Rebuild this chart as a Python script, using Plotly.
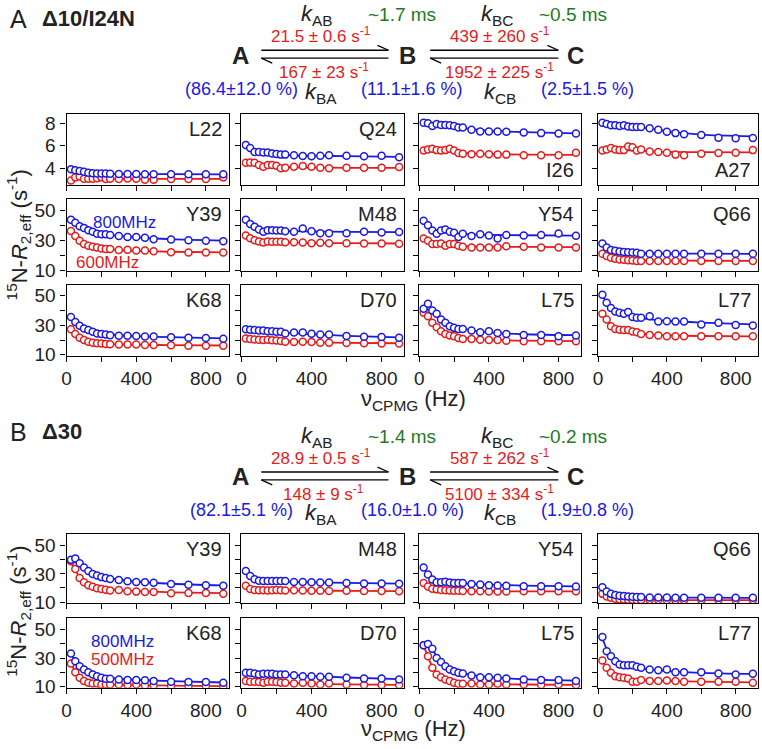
import plotly.graph_objects as go

# ---------------- data ----------------
NU = [25, 50, 75, 100, 125, 150, 175, 200, 225, 250, 300, 350, 400, 450, 500, 600, 700, 800, 900]
FIT_NU = [25, 50, 75, 100, 150, 200, 300, 400, 600, 900]

X_TICKS = [0, 200, 400, 600, 800]
X_TICK_TEXT = ["0", "", "400", "", "800"]
Y_TICKS_TOP = [4, 6, 8]
Y_TICKS = [10, 20, 30, 40, 50]
Y_TICK_TEXT = ["10", "", "30", "", "50"]

# Panel A  (800 MHz blue, 600 MHz red)
L22_800 = [3.92, 3.83, 3.77, 3.70, 3.62, 3.57, 3.55, 3.55, 3.55, 3.52, 3.50, 3.50, 3.50, 3.48, 3.48, 3.48, 3.48, 3.48, 3.48]
L22_600 = [2.93, 3.20, 3.28, 3.07, 3.07, 3.07, 3.13, 3.20, 3.05, 3.07, 3.05, 3.10, 3.07, 2.98, 2.98, 3.05, 3.05, 3.05, 3.20]
Q24_800 = [6.08, 5.80, 5.45, 5.45, 5.40, 5.40, 5.33, 5.28, 5.22, 5.22, 5.16, 5.10, 5.07, 5.13, 5.16, 5.13, 5.07, 5.13, 4.99]
Q24_600 = [4.49, 4.52, 4.49, 4.29, 4.14, 4.29, 4.29, 4.23, 4.00, 4.06, 4.14, 4.20, 4.14, 4.06, 4.00, 4.06, 4.06, 4.06, 4.12]
I26_800 = [8.06, 8.00, 7.77, 7.94, 7.86, 7.86, 7.83, 7.77, 7.62, 7.62, 7.42, 7.28, 7.28, 7.28, 7.25, 7.19, 7.13, 7.10, 7.10]
I26_600 = [5.59, 5.68, 5.74, 5.62, 5.59, 5.62, 5.74, 5.59, 5.36, 5.30, 5.25, 5.30, 5.25, 5.22, 5.22, 5.16, 5.16, 5.16, 5.39]
A27_800 = [8.06, 7.94, 7.83, 7.83, 7.77, 7.83, 7.71, 7.68, 7.68, 7.68, 7.57, 7.42, 7.25, 7.13, 7.04, 6.96, 6.72, 6.67, 6.70]
A27_600 = [5.59, 5.68, 5.80, 5.68, 5.62, 5.62, 5.94, 5.88, 5.59, 5.68, 5.50, 5.45, 5.39, 5.22, 5.16, 5.30, 5.36, 5.39, 5.62]
Y39A_800 = [43.5, 41.5, 39.2, 38.1, 36.6, 35.5, 34.2, 33.8, 33.8, 33.4, 32.7, 32.1, 32.1, 31.6, 30.5, 30.3, 29.9, 29.5, 29.2]
Y39A_600 = [36.0, 32.7, 29.5, 27.3, 26.2, 25.6, 25.1, 24.3, 24.1, 24.1, 23.4, 23.6, 23.0, 23.0, 22.5, 21.9, 21.7, 21.7, 21.7]
M48A_800 = [43.5, 40.7, 38.8, 37.0, 35.5, 36.6, 36.6, 36.4, 36.4, 35.9, 35.5, 37.7, 35.9, 34.6, 34.6, 34.6, 35.5, 35.1, 35.3]
M48A_600 = [33.1, 31.2, 29.9, 29.0, 28.4, 29.0, 28.8, 28.8, 28.8, 28.6, 28.6, 28.4, 27.9, 28.2, 27.9, 27.9, 27.7, 27.7, 27.5]
Y54A_800 = [42.9, 39.8, 36.4, 34.2, 36.4, 37.0, 35.5, 34.9, 32.1, 34.2, 32.7, 33.8, 33.1, 31.0, 33.4, 33.1, 33.4, 34.4, 32.9]
Y54A_600 = [31.0, 29.5, 27.3, 27.3, 27.7, 26.2, 27.3, 27.3, 26.2, 25.6, 25.1, 25.1, 25.1, 25.1, 25.8, 25.6, 25.1, 25.1, 25.1]
Q66A_800 = [27.7, 25.1, 23.4, 22.8, 22.3, 22.1, 21.9, 21.7, 21.5, 20.8, 20.8, 20.8, 20.8, 20.8, 20.8, 20.8, 20.8, 20.8, 20.8]
Q66A_600 = [20.8, 19.3, 18.2, 17.6, 17.1, 16.9, 16.5, 16.3, 16.1, 16.1, 16.1, 16.1, 16.1, 16.1, 16.1, 16.1, 16.1, 16.1, 16.1]
K68A_800 = [35.6, 32.2, 29.6, 27.8, 26.7, 25.6, 24.4, 24.0, 23.8, 23.3, 22.9, 22.9, 22.7, 22.4, 22.4, 21.8, 21.6, 21.3, 20.9]
K68A_600 = [27.3, 24.0, 21.6, 20.0, 18.9, 18.2, 17.8, 17.6, 17.3, 17.1, 16.9, 16.9, 16.9, 16.7, 16.7, 16.4, 16.2, 16.2, 16.2]
D70A_800 = [27.3, 26.9, 26.7, 26.4, 26.4, 26.0, 26.0, 25.6, 25.6, 24.4, 25.1, 25.1, 24.2, 23.8, 23.8, 22.7, 22.2, 22.0, 21.6]
D70A_600 = [21.1, 20.7, 20.4, 20.2, 20.0, 20.2, 19.8, 19.6, 19.3, 18.9, 18.7, 18.9, 18.7, 18.2, 18.2, 18.0, 17.8, 17.6, 17.6]
L75A_800 = [41.1, 44.5, 40.0, 37.7, 33.9, 31.6, 29.3, 28.2, 27.5, 27.5, 26.4, 25.2, 25.9, 24.8, 24.1, 23.4, 23.4, 22.5, 23.0]
L75A_600 = [38.4, 36.1, 31.6, 28.6, 25.9, 24.1, 23.0, 22.5, 21.4, 20.7, 20.7, 20.2, 20.0, 20.0, 19.5, 19.1, 19.1, 19.1, 19.1]
L77A_800 = [50.5, 45.2, 41.6, 39.3, 38.4, 37.7, 38.9, 35.5, 35.0, 35.0, 36.1, 32.5, 32.7, 32.5, 32.5, 30.5, 31.6, 30.2, 29.8]
L77A_600 = [37.7, 33.9, 29.3, 27.5, 27.0, 26.8, 26.8, 25.7, 25.2, 24.1, 23.4, 23.0, 22.5, 22.5, 22.5, 22.5, 22.5, 22.5, 22.5]

# Panel A fits (on FIT_NU)
L22_800_FIT = [3.92, 3.82, 3.74, 3.67, 3.58, 3.54, 3.50, 3.49, 3.48, 3.47]
L22_600_FIT = [3.10, 3.09, 3.08, 3.08, 3.07, 3.07, 3.06, 3.06, 3.06, 3.06]
Q24_800_FIT = [5.95, 5.70, 5.52, 5.42, 5.30, 5.24, 5.16, 5.12, 5.08, 5.02]
Q24_600_FIT = [4.45, 4.35, 4.27, 4.21, 4.15, 4.12, 4.09, 4.07, 4.05, 4.05]
I26_800_FIT = [8.02, 7.96, 7.90, 7.85, 7.76, 7.67, 7.50, 7.35, 7.22, 7.10]
I26_600_FIT = [5.68, 5.66, 5.63, 5.60, 5.52, 5.45, 5.33, 5.27, 5.22, 5.20]
A27_800_FIT = [8.05, 8.00, 7.95, 7.90, 7.82, 7.73, 7.55, 7.30, 7.00, 6.84]
A27_600_FIT = [5.72, 5.70, 5.68, 5.66, 5.62, 5.58, 5.52, 5.47, 5.44, 5.42]
Y39A_800_FIT = [43.5, 41.0, 39.0, 37.5, 35.5, 34.2, 32.8, 31.8, 30.6, 29.6]
Y39A_600_FIT = [36.0, 32.0, 29.3, 27.5, 25.5, 24.4, 23.3, 22.8, 22.2, 21.8]
M48A_800_FIT = [43.0, 40.5, 38.7, 37.6, 36.6, 36.2, 35.9, 35.7, 35.5, 35.3]
M48A_600_FIT = [33.0, 31.2, 30.0, 29.3, 28.7, 28.5, 28.3, 28.1, 27.9, 27.7]
Y54A_800_FIT = [41.5, 39.0, 37.3, 36.2, 35.0, 34.4, 33.8, 33.5, 33.2, 33.0]
Y54A_600_FIT = [30.5, 28.8, 27.7, 27.0, 26.3, 26.0, 25.7, 25.6, 25.4, 25.3]
Q66A_800_FIT = [27.5, 25.2, 23.8, 23.0, 22.2, 21.7, 21.2, 21.0, 20.9, 20.8]
Q66A_600_FIT = [20.8, 19.2, 18.2, 17.6, 17.0, 16.7, 16.4, 16.3, 16.2, 16.1]
K68A_800_FIT = [35.5, 32.0, 29.5, 27.8, 25.6, 24.4, 23.2, 22.6, 21.9, 21.1]
K68A_600_FIT = [27.3, 24.0, 21.6, 20.0, 18.5, 17.7, 17.0, 16.8, 16.5, 16.3]
D70A_800_FIT = [27.2, 26.9, 26.6, 26.3, 25.9, 25.4, 24.6, 23.9, 22.8, 21.8]
D70A_600_FIT = [21.0, 20.7, 20.4, 20.2, 19.8, 19.5, 19.0, 18.6, 18.1, 17.8]
L75A_800_FIT = [41.5, 40.5, 38.5, 36.2, 32.5, 29.8, 26.5, 25.1, 23.9, 23.3]
L75A_600_FIT = [38.5, 35.5, 31.8, 28.8, 25.0, 23.0, 21.0, 20.2, 19.6, 19.2]
L77A_800_FIT = [49.5, 45.5, 42.2, 40.0, 37.4, 35.8, 34.0, 33.0, 31.8, 30.5]
L77A_600_FIT = [37.5, 33.5, 30.2, 28.3, 26.2, 25.0, 23.8, 23.2, 22.7, 22.5]

# Panel B  (800 MHz blue, 500 MHz red)
Y39B_800 = [40.0, 41.0, 37.5, 34.5, 32.0, 30.0, 28.8, 27.7, 27.0, 26.3, 25.6, 24.8, 24.3, 24.0, 23.7, 22.9, 22.3, 22.0, 21.6]
Y39B_500 = [39.0, 33.5, 27.0, 24.0, 22.0, 20.8, 19.8, 19.2, 18.7, 18.2, 18.5, 17.6, 17.4, 17.2, 17.1, 16.2, 16.5, 16.4, 15.9]
M48B_800 = [32.0, 28.5, 26.2, 25.2, 25.0, 24.9, 24.9, 24.9, 24.9, 24.9, 24.3, 24.3, 24.0, 23.8, 23.8, 23.6, 23.2, 23.2, 23.0]
M48B_500 = [21.5, 19.3, 18.6, 18.4, 18.3, 18.2, 18.3, 18.5, 18.4, 18.2, 18.3, 18.2, 18.0, 18.0, 17.9, 18.0, 17.8, 17.8, 17.7]
Y54B_800 = [34.5, 29.5, 26.0, 24.0, 24.0, 24.5, 23.8, 23.5, 23.5, 23.6, 22.8, 22.4, 22.0, 21.8, 21.6, 21.3, 21.2, 21.2, 21.0]
Y54B_500 = [23.5, 21.0, 19.5, 19.0, 18.6, 18.4, 18.2, 18.1, 18.0, 17.9, 17.6, 17.6, 17.5, 17.5, 17.5, 17.6, 17.7, 17.7, 17.6]
Q66B_800 = [20.5, 17.5, 15.8, 15.0, 14.5, 14.2, 14.0, 13.8, 13.6, 13.5, 13.3, 13.2, 13.2, 13.1, 13.1, 13.0, 13.0, 13.0, 13.0]
Q66B_500 = [15.8, 14.0, 13.0, 12.4, 12.0, 11.8, 11.7, 11.6, 11.5, 11.5, 11.4, 11.4, 11.3, 11.3, 11.3, 11.3, 11.3, 11.3, 11.3]
K68B_800 = [33.3, 27.9, 24.4, 22.1, 20.2, 18.6, 17.4, 16.3, 15.6, 15.6, 15.1, 14.7, 14.7, 14.5, 14.0, 13.5, 13.3, 13.3, 12.8]
K68B_500 = [26.3, 20.2, 16.3, 14.0, 12.8, 12.3, 12.3, 11.6, 11.6, 11.6, 11.6, 11.2, 11.6, 10.9, 10.9, 10.5, 10.5, 10.5, 10.2]
D70B_800 = [19.8, 19.8, 19.3, 18.6, 19.1, 19.1, 19.1, 18.6, 18.6, 18.6, 18.1, 17.4, 17.4, 17.0, 17.0, 16.3, 15.8, 15.8, 15.1]
D70B_500 = [14.0, 13.5, 13.5, 13.3, 12.8, 13.5, 13.5, 13.3, 12.8, 12.8, 12.3, 12.8, 12.3, 11.6, 12.3, 11.6, 11.2, 11.2, 11.2]
L75B_800 = [39.1, 40.0, 36.7, 30.2, 27.4, 24.4, 22.1, 20.9, 19.8, 19.3, 17.9, 16.7, 16.7, 16.3, 15.8, 15.1, 14.7, 14.7, 14.0]
L75B_500 = [39.1, 31.4, 23.3, 18.6, 16.7, 15.1, 14.0, 12.8, 12.1, 12.1, 12.3, 11.6, 11.6, 12.1, 11.6, 11.6, 11.2, 11.6, 11.2]
L77B_800 = [44.9, 34.9, 31.4, 27.9, 25.6, 25.1, 25.1, 25.1, 24.0, 23.3, 22.1, 21.6, 22.1, 20.2, 20.2, 20.2, 19.3, 18.6, 19.1]
L77B_500 = [28.4, 23.3, 19.8, 17.4, 16.7, 16.3, 15.8, 13.5, 13.5, 14.7, 14.0, 14.0, 14.4, 14.0, 13.5, 13.5, 13.5, 13.5, 12.8]

Y39B_800_FIT = [40.5, 39.0, 36.5, 34.2, 30.8, 28.6, 26.0, 24.6, 23.0, 21.8]
Y39B_500_FIT = [38.5, 32.5, 27.8, 24.8, 21.6, 20.0, 18.5, 17.7, 16.9, 16.3]
M48B_800_FIT = [31.5, 28.6, 26.8, 25.8, 25.0, 24.7, 24.3, 24.0, 23.6, 23.1]
M48B_500_FIT = [21.5, 19.6, 18.9, 18.6, 18.4, 18.3, 18.2, 18.1, 18.0, 17.8]
Y54B_800_FIT = [34.0, 29.8, 27.0, 25.4, 24.1, 23.6, 22.9, 22.4, 21.7, 21.1]
Y54B_500_FIT = [23.5, 21.2, 19.8, 19.0, 18.4, 18.1, 17.8, 17.7, 17.6, 17.6]
Q66B_800_FIT = [20.2, 17.5, 16.0, 15.1, 14.2, 13.8, 13.4, 13.2, 13.1, 13.0]
Q66B_500_FIT = [15.8, 14.1, 13.0, 12.4, 11.9, 11.7, 11.5, 11.4, 11.3, 11.3]
K68B_800_FIT = [33.0, 28.2, 24.6, 22.2, 19.0, 17.2, 15.6, 14.9, 14.0, 13.0]
K68B_500_FIT = [26.5, 20.5, 16.6, 14.4, 12.8, 12.1, 11.5, 11.2, 10.8, 10.4]
D70B_800_FIT = [19.8, 19.6, 19.4, 19.2, 18.9, 18.7, 18.1, 17.5, 16.5, 15.3]
D70B_500_FIT = [13.9, 13.7, 13.5, 13.3, 13.1, 12.9, 12.5, 12.2, 11.7, 11.3]
L75B_800_FIT = [39.5, 39.0, 36.0, 31.5, 25.0, 21.5, 18.3, 16.8, 15.3, 14.2]
L75B_500_FIT = [38.8, 31.0, 24.0, 19.5, 15.2, 13.4, 12.2, 11.9, 11.6, 11.3]
L77B_800_FIT = [44.0, 36.5, 31.5, 28.4, 25.2, 23.7, 22.0, 21.0, 19.8, 19.0]
L77B_500_FIT = [28.4, 23.5, 20.2, 18.2, 16.3, 15.4, 14.5, 14.1, 13.6, 13.1]

# panel descriptors: (label, blue, red, blue fit, red fit, label at bottom?)
PANEL_A = [
    ("L22", L22_800, L22_600, L22_800_FIT, L22_600_FIT, False),
    ("Q24", Q24_800, Q24_600, Q24_800_FIT, Q24_600_FIT, False),
    ("I26", I26_800, I26_600, I26_800_FIT, I26_600_FIT, True),
    ("A27", A27_800, A27_600, A27_800_FIT, A27_600_FIT, True),
    ("Y39", Y39A_800, Y39A_600, Y39A_800_FIT, Y39A_600_FIT, False),
    ("M48", M48A_800, M48A_600, M48A_800_FIT, M48A_600_FIT, False),
    ("Y54", Y54A_800, Y54A_600, Y54A_800_FIT, Y54A_600_FIT, False),
    ("Q66", Q66A_800, Q66A_600, Q66A_800_FIT, Q66A_600_FIT, False),
    ("K68", K68A_800, K68A_600, K68A_800_FIT, K68A_600_FIT, False),
    ("D70", D70A_800, D70A_600, D70A_800_FIT, D70A_600_FIT, False),
    ("L75", L75A_800, L75A_600, L75A_800_FIT, L75A_600_FIT, False),
    ("L77", L77A_800, L77A_600, L77A_800_FIT, L77A_600_FIT, False),
]
PANEL_B = [
    ("Y39", Y39B_800, Y39B_500, Y39B_800_FIT, Y39B_500_FIT, False),
    ("M48", M48B_800, M48B_500, M48B_800_FIT, M48B_500_FIT, False),
    ("Y54", Y54B_800, Y54B_500, Y54B_800_FIT, Y54B_500_FIT, False),
    ("Q66", Q66B_800, Q66B_500, Q66B_800_FIT, Q66B_500_FIT, False),
    ("K68", K68B_800, K68B_500, K68B_800_FIT, K68B_500_FIT, False),
    ("D70", D70B_800, D70B_500, D70B_800_FIT, D70B_500_FIT, False),
    ("L75", L75B_800, L75B_500, L75B_800_FIT, L75B_500_FIT, False),
    ("L77", L77B_800, L77B_500, L77B_800_FIT, L77B_500_FIT, False),
]

# ---------------- layout geometry (screen pixels) ----------------
W, H = 762, 749
COLS = [(62, 225), (238, 402), (417, 580), (597, 758)]
ROWS_A = [(115, 187), (201, 274), (288, 360)]
ROWS_B = [(541, 611), (626, 697)]
X_RANGE = [0, 930]
Y_RANGE_TOP = [2.5, 8.8]
Y_RANGE_A = [9.4, 57.3]
Y_RANGE_B = [9.3, 58.3]

BLUE = "#1a1ae0"
RED = "#e41c1c"
INK = "#222222"
GREEN = "#1e7a1e"
FONT = "Liberation Sans, Arial, sans-serif"


def px(x):
    return x / W


def py(y):
    return 1 - y / H


fig = go.Figure()
layout = dict(
    width=W, height=H, autosize=False,
    margin=dict(l=0, r=0, t=0, b=0),
    paper_bgcolor="white", plot_bgcolor="white",
    showlegend=False,
    font=dict(family=FONT, color=INK, size=18),
)
annotations = []
shapes = []

panels = []
for i, p in enumerate(PANEL_A):
    r, c = divmod(i, 4)
    yr = Y_RANGE_TOP if r == 0 else Y_RANGE_A
    ticks = (Y_TICKS_TOP, [str(v) for v in Y_TICKS_TOP]) if r == 0 else (Y_TICKS, Y_TICK_TEXT)
    panels.append((p, COLS[c], ROWS_A[r], yr, ticks, c == 0, r == 2))
for i, p in enumerate(PANEL_B):
    r, c = divmod(i, 4)
    panels.append((p, COLS[c], ROWS_B[r], Y_RANGE_B, (Y_TICKS, Y_TICK_TEXT), c == 0, r == 1))

for k, (p, (x0, x1), (y0, y1), yr, (tv, tt), left, bottom) in enumerate(panels, start=1):
    label, blue, red, bfit, rfit, lab_bottom = p
    xa, ya = f"x{k}", f"y{k}"
    for fit, col in ((rfit, RED), (bfit, BLUE)):
        fig.add_trace(go.Scatter(x=FIT_NU, y=fit, mode="lines", xaxis=xa, yaxis=ya,
                                 line=dict(color=col, width=1.8, shape="spline", smoothing=0.8),
                                 hoverinfo="skip"))
    for dat, col in ((red, RED), (blue, BLUE)):
        fig.add_trace(go.Scatter(x=NU, y=dat, mode="markers", xaxis=xa, yaxis=ya,
                                 marker=dict(symbol="circle", size=7, color="white",
                                             line=dict(color=col, width=1.5))))
    axcommon = dict(showline=True, mirror=True, linecolor="black", linewidth=1.3,
                    showgrid=False, zeroline=False, ticks="outside", ticklen=5,
                    tickwidth=1.2, tickcolor="black",
                    tickfont=dict(family=FONT, size=19, color=INK))
    layout[f"xaxis{k}"] = dict(domain=[px(x0), px(x1)], anchor=ya, range=X_RANGE,
                               tickmode="array", tickvals=X_TICKS, ticktext=X_TICK_TEXT,
                               showticklabels=bottom, **axcommon)
    layout[f"yaxis{k}"] = dict(domain=[py(y1), py(y0)], anchor=xa, range=yr,
                               tickmode="array", tickvals=tv, ticktext=tt,
                               showticklabels=left, ticklabelstandoff=1, **axcommon)
    if lab_bottom:
        annotations.append(dict(xref="paper", yref="paper", x=px(x1 - 5), y=py(y1 - 2),
                                text=label, xanchor="right", yanchor="bottom", showarrow=False,
                                font=dict(size=20, color=INK)))
    else:
        annotations.append(dict(xref="paper", yref="paper", x=px(x1 - 5), y=py(y0 + 2),
                                text=label, xanchor="right", yanchor="top", showarrow=False,
                                font=dict(size=20, color=INK)))


def txt(x, y, s, size, color=INK, anchor="center", angle=0):
    annotations.append(dict(xref="paper", yref="paper", x=px(x), y=py(y), text=s,
                            showarrow=False, xanchor=anchor, yanchor="middle",
                            textangle=angle, font=dict(size=size, color=color)))


# frequency labels
txt(87, 225, "800MHz", 17, BLUE, anchor="left")
txt(69, 265, "600MHz", 17, RED, anchor="left")
txt(85, 650, "800MHz", 17, BLUE, anchor="left")
txt(85, 668, "500MHz", 17, RED, anchor="left")

# axis titles
YT = "<sup>15</sup>N-<i>R</i><sub>2,eff</sub> (s<sup>-1</sup>)"
XT = "ν<sub>CPMG</sub> (Hz)"
for yc in (237, 619):
    txt(14, yc, YT, 22, angle=-90)
for yc in (405, 740):
    txt(411, yc, XT, 22)

# kinetic schemes
SCHEMES = [
    dict(letter="A", name="Δ10/I24N", t_ab="~1.7 ms", t_bc="~0.5 ms",
         kab="21.5 ± 0.6 s<sup>-1</sup>", kbc="439 ± 260 s<sup>-1</sup>",
         kba="167 ± 23 s<sup>-1</sup>", kcb="1952 ± 225 s<sup>-1</sup>",
         pa="(86.4±12.0 %)", pb="(11.1±1.6 %)", pc="(2.5±1.5 %)", dy=0, dyt=0),
    dict(letter="B", name="Δ30", t_ab="~1.4 ms", t_bc="~0.2 ms",
         kab="28.9 ± 0.5 s<sup>-1</sup>", kbc="587 ± 262 s<sup>-1</sup>",
         kba="148 ± 9 s<sup>-1</sup>", kcb="5100 ± 334 s<sup>-1</sup>",
         pa="(82.1±5.1 %)", pb="(16.0±1.0 %)", pc="(1.9±0.8 %)", dy=428, dyt=419),
]

for s in SCHEMES:
    d, dt = s["dy"], s["dyt"]
    txt(3, 18 + dt, s["letter"], 25, anchor="left")
    txt(35, 18 + dt, "<b>" + s["name"] + "</b>", 22, anchor="left")
    txt(314, 14 + d, "<i>k</i><sub>AB</sub>", 22)
    txt(363, 14 + d, s["t_ab"], 19, GREEN, anchor="left")
    txt(495, 14 + d, "<i>k</i><sub>BC</sub>", 22)
    txt(536, 14 + d, s["t_bc"], 19, GREEN, anchor="left")
    txt(318, 35 + d, s["kab"], 17, RED)
    txt(498, 35 + d, s["kbc"], 17, RED)
    txt(237, 55 + d, "<b>A</b>", 24)
    txt(405, 55 + d, "<b>B</b>", 24)
    txt(574, 55 + d, "<b>C</b>", 24)
    txt(321, 71 + d, s["kba"], 17, RED)
    txt(498, 71 + d, s["kcb"], 17, RED)
    txt(238, 89 + d, s["pa"], 18, BLUE)
    txt(318, 93 + d, "<i>k</i><sub>BA</sub>", 22)
    txt(410, 89 + d, s["pb"], 18, BLUE)
    txt(498, 93 + d, "<i>k</i><sub>CB</sub>", 22)
    txt(586, 89 + d, s["pc"], 18, BLUE)
    for (a0, a1) in ((258, 386), (428, 557)):
        ln = dict(type="line", xref="paper", yref="paper", line=dict(color="black", width=1.3))
        shapes.append({**ln, "x0": px(a0), "x1": px(a1), "y0": py(50 + d), "y1": py(50 + d)})
        shapes.append({**ln, "x0": px(a1), "x1": px(a1 - 11), "y0": py(50 + d), "y1": py(45 + d)})
        shapes.append({**ln, "x0": px(a0), "x1": px(a1), "y0": py(58 + d), "y1": py(58 + d)})
        shapes.append({**ln, "x0": px(a0), "x1": px(a0 + 11), "y0": py(58 + d), "y1": py(63 + d)})

layout["annotations"] = annotations
layout["shapes"] = shapes
fig.update_layout(**layout)
fig.write_html("out.html", config={"displayModeBar": False},
               post_script="document.body.style.margin='0px';document.body.style.overflow='hidden';")
